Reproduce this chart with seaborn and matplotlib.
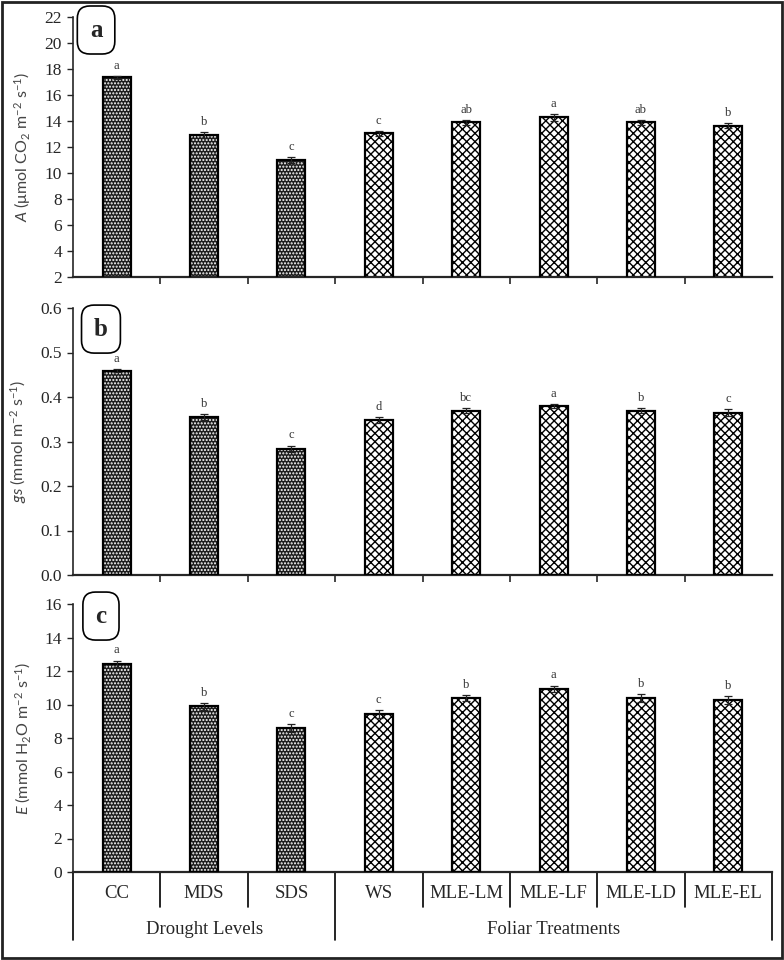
import numpy as np
import pandas as pd
import matplotlib.pyplot as plt
import seaborn as sns
from matplotlib.patches import Rectangle
from matplotlib.ticker import FormatStrFormatter

# Data
categories = ['CC', 'MDS', 'SDS', 'WS', 'MLE-LM', 'MLE-LF', 'MLE-LD', 'MLE-EL']
drought_cats = ['CC', 'MDS', 'SDS']
groups = ['Drought Levels', 'Foliar Treatments']

a_values = [17.36, 12.92, 11.0, 13.05, 13.9, 14.28, 13.9, 13.64]
a_errors = [0.12, 0.2, 0.2, 0.2, 0.2, 0.25, 0.2, 0.2]
a_letters = ['a', 'b', 'c', 'c', 'ab', 'a', 'ab', 'b']

b_values = [0.459, 0.355, 0.284, 0.348, 0.369, 0.380, 0.369, 0.365]
b_errors = [0.003, 0.006, 0.007, 0.006, 0.006, 0.005, 0.006, 0.007]
b_letters = ['a', 'b', 'c', 'd', 'bc', 'a', 'b', 'c']

c_values = [12.42, 9.9, 8.6, 9.43, 10.37, 10.93, 10.37, 10.27]
c_errors = [0.2, 0.2, 0.25, 0.25, 0.18, 0.2, 0.25, 0.25]
c_letters = ['a', 'b', 'c', 'c', 'b', 'a', 'b', 'b']

sns.set_style('ticks')
plt.rcParams['font.family'] = ['Liberation Serif', 'DejaVu Serif']
plt.rcParams['mathtext.fontset'] = 'custom'
plt.rcParams['mathtext.rm'] = 'Lato'
plt.rcParams['mathtext.it'] = 'Lato:italic'
plt.rcParams['mathtext.default'] = 'regular'
plt.rcParams['hatch.linewidth'] = 1.0

fig = plt.figure(figsize=(7.84, 9.6), dpi=100)
left, right = 73 / 784, 772 / 784
axes_px = [(17, 277), (308, 575), (604, 872)]
axs = []
for top, bot in axes_px:
    axs.append(fig.add_axes([left, 1 - bot / 960, right - left, (bot - top) / 960]))

panels = [
    (axs[0], a_values, a_errors, a_letters, (2, 22), np.arange(2, 23, 2),
     r'$\it{A}$ (μmol CO$_2$ m$^{-2}$ s$^{-1}$)', 'a', 0.95, 0.033),
    (axs[1], b_values, b_errors, b_letters, (0, 0.6), np.arange(0, 0.61, 0.1),
     r'$\it{gs}$ (mmol m$^{-2}$ s$^{-1}$)', 'b', 0.921, 0.04),
    (axs[2], c_values, c_errors, c_letters, (0, 16), np.arange(0, 17, 2),
     r'$\it{E}$ (mmol H$_2$O m$^{-2}$ s$^{-1}$)', 'c', 0.955, 0.04),
]

x = np.arange(len(categories))
for ax, vals, errs, letters, ylim, yticks, ylab, plabel, py, px in panels:
    df = pd.DataFrame({'cat': categories, 'val': vals})
    sns.barplot(data=df, x='cat', y='val', ax=ax, width=0.32, color='white',
                edgecolor='black', linewidth=0, saturation=1)
    for cat, patch in zip(categories, ax.patches):
        if cat in drought_cats:
            patch.set_facecolor('#1c1c1c')
            patch.set_edgecolor('white')
            patch.set_hatch('.....')
        else:
            patch.set_facecolor('white')
            patch.set_edgecolor('black')
            patch.set_hatch('xxxx')
        patch.set_linewidth(0)
    # bar outlines
    ax.bar(x, vals, width=0.32, fill=False, edgecolor='black', linewidth=1.6, zorder=3)
    ax.errorbar(x, vals, yerr=errs, fmt='none', ecolor='#222222', elinewidth=0.9,
                capsize=3, capthick=0.9, zorder=4)
    for xi, v, e, lt in zip(x, vals, errs, letters):
        ax.annotate(lt, (xi, v + e), xytext=(0, 3), textcoords='offset points',
                    ha='center', va='bottom', fontsize=9, color='#333333')

    ax.set_xlim(-0.5, len(categories) - 0.5)
    ax.set_ylim(*ylim)
    ax.set_yticks(yticks)
    if plabel == 'b':
        ax.yaxis.set_major_formatter(FormatStrFormatter('%.1f'))
    ax.tick_params(axis='y', labelsize=12.5, length=4, width=1, direction='out', pad=4)
    ax.set_ylabel(ylab, fontsize=11.5, color='#444444', labelpad=8, fontfamily='Lato')
    ax.set_xlabel('')
    sns.despine(ax=ax)
    ax.spines['left'].set_linewidth(1.2)
    ax.spines['bottom'].set_linewidth(1.6)

    ax.set_xticks(np.arange(0.5, len(categories) - 0.5, 1))
    ax.set_xticklabels([])
    if plabel != 'c':
        ax.tick_params(axis='x', length=5, width=1.2, direction='out')
    else:
        ax.tick_params(axis='x', length=0)

    ax.text(px, py, plabel, transform=ax.transAxes, fontsize=18, fontweight='bold',
            ha='center', va='center',
            bbox=dict(boxstyle='round,pad=0.5,rounding_size=0.5', fc='white',
                      ec='black', lw=1.2))

# category and group labels under the bottom panel
ax = axs[2]
trans = ax.get_xaxis_transform()
ax_h = 872 - 604
for xi, cat in zip(x, categories):
    ax.text(xi, -21 / ax_h, cat, transform=trans, ha='center', va='center', fontsize=13.5)
n_drought = len(drought_cats)
for b in np.arange(-0.5, len(categories), 1):
    if b in (-0.5, n_drought - 0.5, len(categories) - 0.5):
        y_end = -68 / ax_h
    else:
        y_end = -35 / ax_h
    ax.plot([b, b], [0, y_end], transform=trans, color='black', lw=1.2, clip_on=False)
group_centers = [(n_drought - 1) / 2, (n_drought + len(categories) - 1) / 2]
for gc, g in zip(group_centers, groups):
    ax.text(gc, -58 / ax_h, g, transform=trans, ha='center', va='center', fontsize=13.5)

# frame around the whole figure
fig.patches.append(Rectangle((0.002, 0.002), 0.996, 0.996, transform=fig.transFigure,
                             fill=False, edgecolor='#222222', linewidth=2))

fig.savefig('out.png', dpi=100)
